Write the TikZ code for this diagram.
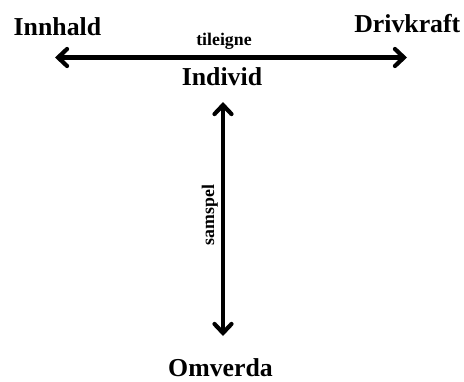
\documentclass[tikz,border=0pt]{standalone}
\usepackage{fontspec}
\setmainfont{Liberation Serif}
\usetikzlibrary{arrows.meta}
\begin{document}
\begin{tikzpicture}[x=1pt, y=-1pt, every node/.style={inner sep=0pt, font=\bfseries\fontsize{25.8}{28}\selectfont},
        small/.style={font=\bfseries\fontsize{17.8}{20}\selectfont},
        twoway/.style={line width=4.2pt, {Straight Barb[length=9pt, width=17pt, line width=4.2pt, line cap=round]}-{Straight Barb[length=9pt, width=17pt, line width=4.2pt, line cap=round]}}]
        \useasboundingbox (0,0) rectangle (464,381);
        \coordinate (l) at (55,57.5);
        \coordinate (r) at (407,57.5);
        \coordinate (t) at (223,102);
        \coordinate (b) at (223,336);
        \draw[twoway] (l)--(r);
        \draw[twoway] (t)--(b);
        \node[anchor=base west] (innhald) at (13.5,35) {Innhald};
        \node[anchor=base east] (drivkraft) at (460.5,32.5) {Drivkraft};
        \node[anchor=base, small] (tileigne) at (224,45) {tileigne};
        \node[anchor=base] (individ) at (222,85) {Individ};
        \node[anchor=base, small, rotate=90] (samspel) at (214,215) {samspel};
        \node[anchor=base] (omverda) at (220.5,376) {Omverda};
    \end{tikzpicture}
\end{document}
